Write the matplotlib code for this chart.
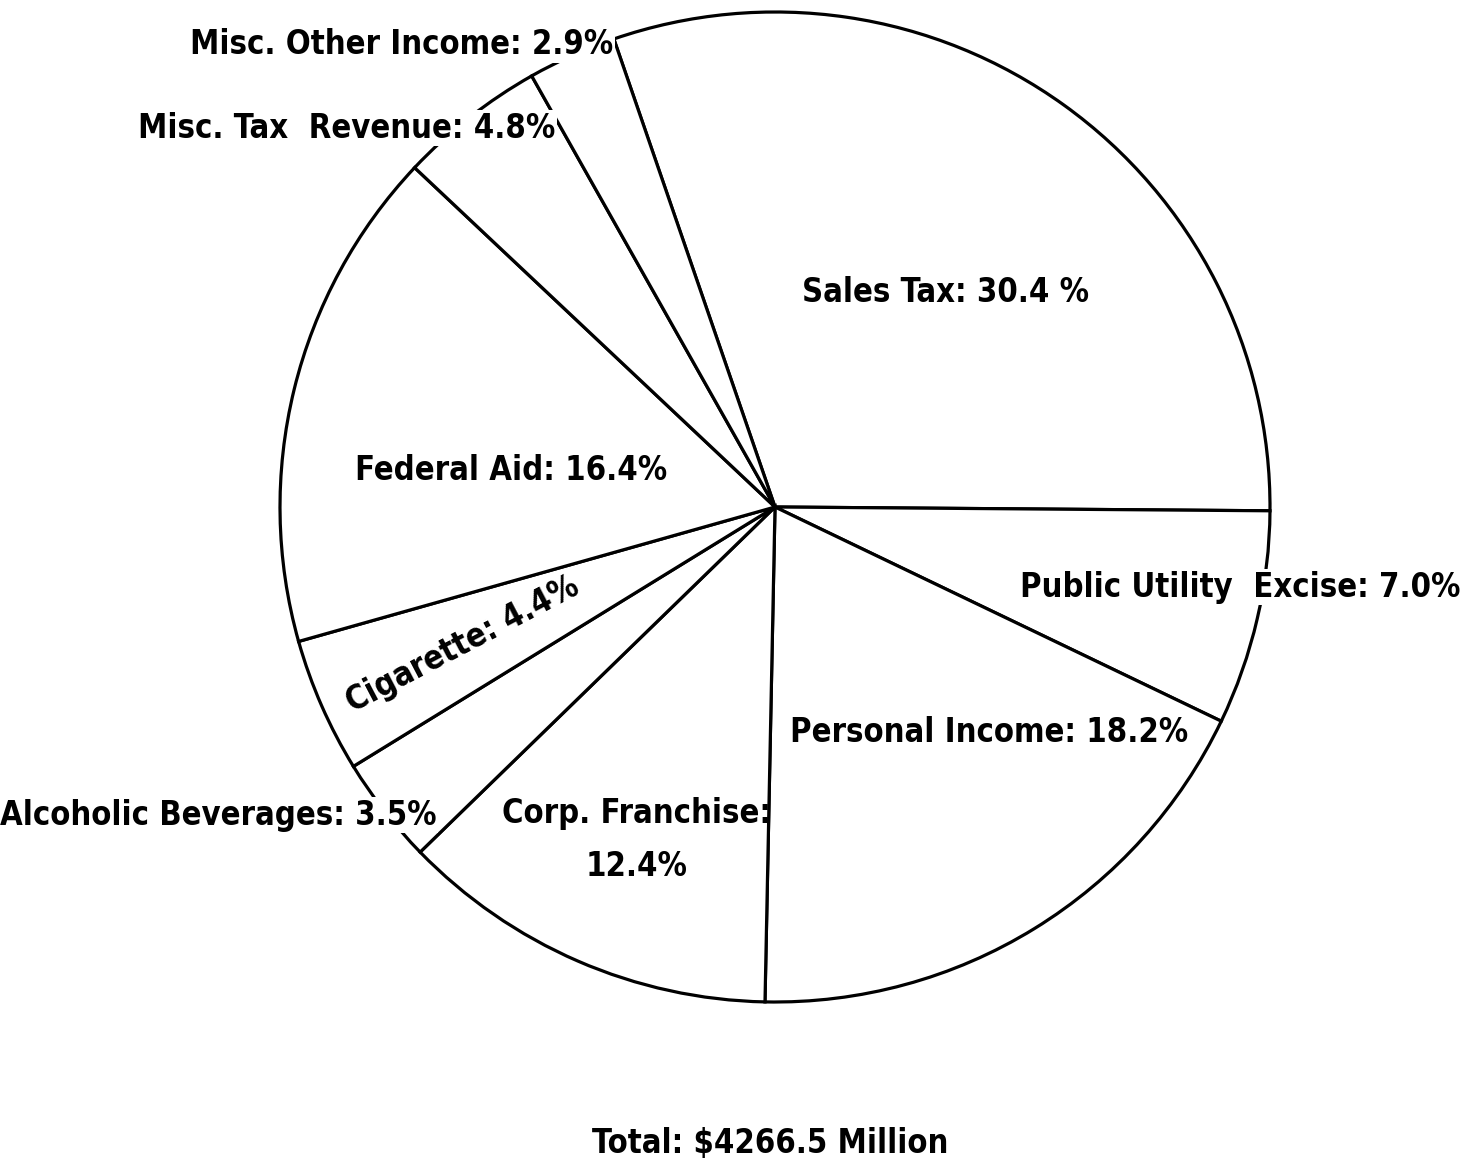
import matplotlib
matplotlib.use("Agg")
import numpy as np
from matplotlib import pyplot as plt
from matplotlib import font_manager

# revenue shares (percent), clockwise from the top
categories = ["Sales Tax", "Public Utility Excise", "Personal Income",
              "Corp. Franchise", "Alcoholic Beverages", "Cigarette",
              "Federal Aid", "Misc. Tax Revenue", "Misc. Other Income"]
shares = [30.4, 7.0, 18.2, 12.4, 3.5, 4.4, 16.4, 4.8, 2.9]
total_text = "Total: $4266.5 Million"

W, H = 1479, 1165

# look for a narrow bold face, the scan uses a condensed grotesque
narrow = None
for f in font_manager.fontManager.ttflist:
    fn = f.fname.lower()
    if ("narrow-bold." in fn or "condensed-bold." in fn) and "oblique" not in fn and "italic" not in fn:
        if narrow is None or "liberation" in fn:
            narrow = f.fname
if narrow:
    fp = font_manager.FontProperties(fname=narrow)
    size = 23.5
else:
    fp = font_manager.FontProperties(family="DejaVu Sans", weight="bold")
    size = 20


def py(y):
    # pixel row (from top) -> axes y
    return H - y


fig = plt.figure(figsize=(W / 100, H / 100), dpi=100)
ax = fig.add_axes([0, 0, 1, 1])

cx, cy, rad = 775, py(507), 495
wedges, _ = ax.pie(shares, center=(cx, cy), radius=rad, startangle=109,
                   counterclock=False,
                   wedgeprops=dict(facecolor="white", edgecolor="black", linewidth=2.3))
ax.set_xlim(0, W)
ax.set_ylim(0, H)
ax.set_aspect("equal")
ax.axis("off")

# label placement (pixel coords of text centres) and extra options
layout = {
    "Sales Tax": dict(xy=(946, 292), text="Sales Tax: 30.4 %"),
    "Public Utility Excise": dict(xy=(1240, 587), text="Public Utility  Excise: 7.0%", box=True),
    "Personal Income": dict(xy=(989, 733), text="Personal Income: 18.2%"),
    "Corp. Franchise": dict(xy=(637, 840), text="Corp. Franchise:\n12.4%"),
    "Alcoholic Beverages": dict(xy=(437, 815), text="Alcoholic Beverages: 3.5%", ha="right", box=True),
    "Cigarette": dict(text="Cigarette: 4.4%", r=0.69),
    "Federal Aid": dict(xy=(511, 470), text="Federal Aid: 16.4%"),
    "Misc. Tax Revenue": dict(xy=(347, 128), text="Misc. Tax  Revenue: 4.8%", box=True),
    "Misc. Other Income": dict(xy=(402, 45), text="Misc. Other Income: 2.9%", box=True),
}

for cat, w in zip(categories, wedges):
    opt = layout[cat]
    rot = 0
    if "r" in opt:
        # placed along the middle of its own thin wedge
        mid = np.deg2rad((w.theta1 + w.theta2) / 2)
        x = cx + opt["r"] * rad * np.cos(mid)
        y = cy + opt["r"] * rad * np.sin(mid)
        rot = np.rad2deg(mid) + 180 + 4
    else:
        x, y = opt["xy"][0], py(opt["xy"][1])
    bbox = dict(facecolor="white", edgecolor="none", pad=1) if opt.get("box") else None
    ax.text(x, y, opt["text"], ha=opt.get("ha", "center"), va="center",
            rotation=rot, rotation_mode="anchor", fontproperties=fp, fontsize=size,
            linespacing=1.75, bbox=bbox, zorder=5)

ax.text(770, py(1143), total_text, ha="center", va="center",
        fontproperties=fp, fontsize=size)

fig.savefig("out.png", dpi=100, facecolor="white")
